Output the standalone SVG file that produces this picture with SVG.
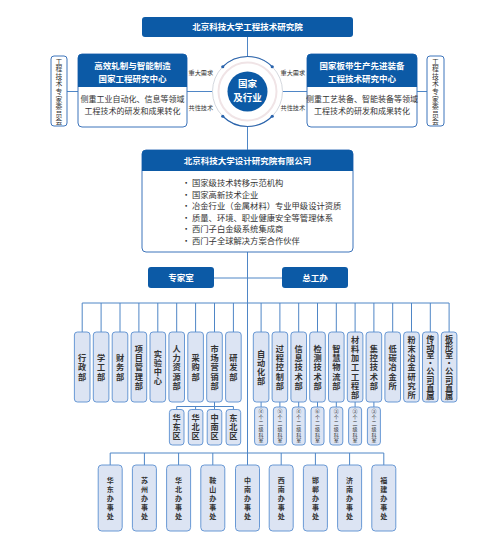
<svg xmlns="http://www.w3.org/2000/svg" width="500" height="556" viewBox="0 0 500 556">
<style>
text{font-family:"Noto Sans CJK SC","Noto Sans",sans-serif;}
.hd{fill:#0c5aa6;}
.wt{fill:#fff;font-weight:bold;text-anchor:middle;}
.body{fill:#333;font-size:8px;text-anchor:middle;}
.frame{fill:#fff;stroke:#3d74bb;stroke-width:1;}
.cm{fill:#fff;stroke:#3d74bb;stroke-width:1;}
.cmt{fill:#333;font-size:6.8px;text-anchor:middle;}
.lbl{fill:#333;font-size:6.2px;}
.dept{fill:#dce4f3;stroke:#5a8fd0;stroke-width:0.9;}
.dt{fill:#333;font-size:8.2px;font-weight:bold;text-anchor:middle;}
.st{fill:#333;font-size:5px;text-anchor:middle;}
.ot{fill:#333;font-size:7px;font-weight:bold;text-anchor:middle;}
.bl{fill:#333;font-size:8.3px;}
.ln{stroke:#4f86c6;stroke-width:1;fill:none;}
</style>
<rect width="500" height="556" fill="#fff"/>

<g id="connectors">
<path class="ln" d="M247.5 37V56.5M247.5 126.5V150M247.5 252V465"/>
<path class="ln" d="M67 91.5H78M187 91.5H212.5M282.5 91.5H307M417 91.5H427"/>
<path class="ln" d="M214 278H282"/>
<path class="ln" d="M82.2 303H449.1M82.2 303V332M101.1 303V332M120 303V332M138.9 303V332M157.8 303V332M176.7 303V332M195.6 303V332M214.5 303V332M233.4 303V332M261.1 303V332M279.9 303V332M298.7 303V332M317.5 303V332M336.3 303V332M355.1 303V332M373.9 303V332M392.7 303V332M411.5 303V332M430.3 303V332M449.1 303V332"/>
<path class="ln" d="M214.5 402V406.5M176.7 406.5H233.4M176.7 406.5V409.5M195.6 406.5V409.5M214.5 406.5V409.5M233.4 406.5V409.5"/>
<path class="ln" d="M261.1 402V407M279.9 402V407M298.7 402V407M317.5 402V407M336.3 402V407M355.1 402V407M373.9 402V407"/>
<path class="ln" d="M110.2 453H383.8M110.2 453V465M144.4 453V465M178.6 453V465M212.8 453V465M281.2 453V465M315.4 453V465M349.6 453V465M383.8 453V465"/>
</g>

<g id="institute">
<rect class="hd" x="142" y="17" width="211" height="20" rx="3"/>
<text class="wt" x="247.5" y="30.2" font-size="8.5">北京科技大学工程技术研究院</text>
</g>

<g id="center-circle">
<circle cx="247.5" cy="91.5" r="35" fill="#fff" stroke="#c9ced6" stroke-width="0.8"/>
<circle cx="247.5" cy="91.5" r="29" fill="none" stroke="#f0e4e6" stroke-width="2"/>
<path d="M222.75 66.75A35 35 0 0 1 272.25 66.75M222.75 116.25A35 35 0 0 0 272.25 116.25" fill="none" stroke="#2a64ad" stroke-width="1.1"/>
<circle cx="222.75" cy="66.75" r="1.6" fill="#2a64ad"/>
<circle cx="272.25" cy="66.75" r="1.6" fill="#2a64ad"/>
<circle cx="222.75" cy="116.25" r="1.6" fill="#2a64ad"/>
<circle cx="272.25" cy="116.25" r="1.6" fill="#2a64ad"/>
<circle cx="247.5" cy="91.5" r="20" fill="#0c5aa6"/>
<text class="wt" x="247.5" y="86.5" font-size="9.5">国家</text>
<text class="wt" x="247.5" y="100.5" font-size="9.5">及行业</text>
</g>

<g id="labels">
<text class="lbl" x="188.5" y="75.2">重大需求</text>
<text class="lbl" x="188.5" y="110.2">共性技术</text>
<text class="lbl" x="280.5" y="75.2">重大需求</text>
<text class="lbl" x="280.5" y="110.2">共性技术</text>
</g>

<g id="committee-left">
<rect class="cm" x="51" y="56" width="16" height="70" rx="3"/>
<text class="cmt" x="59 59 59 59 59 59 59 59 59" y="63.5 71.1 78.7 86.3 93.9 101.5 109.1 116.7 124.3">工程技术专家委员会</text>
</g>
<g id="committee-right">
<rect class="cm" x="427" y="56" width="17" height="70" rx="3"/>
<text class="cmt" x="435.5 435.5 435.5 435.5 435.5 435.5 435.5 435.5 435.5" y="63.5 71.1 78.7 86.3 93.9 101.5 109.1 116.7 124.3">工程技术专家委员会</text>
</g>

<g id="center-left">
<rect class="frame" x="78" y="54" width="109" height="73" rx="4"/>
<path class="hd" d="M78 87V58A4 4 0 0 1 82 54H183A4 4 0 0 1 187 58V87Z"/>
<text class="wt" x="132.5" y="69" font-size="8.5">高效轧制与智能制造</text>
<text class="wt" x="132.5" y="81.5" font-size="8.5">国家工程研究中心</text>
<text class="body" x="132.5" y="102.3">侧重工业自动化、信息等领域</text>
<text class="body" x="132.5" y="114">工程技术的研发和成果转化</text>
</g>

<g id="center-right">
<rect class="frame" x="307" y="54" width="110" height="73" rx="4"/>
<path class="hd" d="M307 87V58A4 4 0 0 1 311 54H413A4 4 0 0 1 417 58V87Z"/>
<text class="wt" x="362" y="69" font-size="8.5">国家板带生产先进装备</text>
<text class="wt" x="362" y="81.5" font-size="8.5">工程技术研究中心</text>
<text class="body" x="362" y="102.3">侧重工艺装备、智能装备等领域</text>
<text class="body" x="362" y="114">工程技术的研发和成果转化</text>
</g>

<g id="company">
<rect class="frame" x="142" y="150" width="211" height="102" rx="4"/>
<path class="hd" d="M142 171V154A4 4 0 0 1 146 150H349A4 4 0 0 1 353 154V171Z"/>
<text class="wt" x="247.5" y="163.5" font-size="8.5">北京科技大学设计研究院有限公司</text>
<g class="bl">
<text x="182" y="186">·</text><text x="192" y="186">国家级技术转移示范机构</text>
<text x="182" y="197.5">·</text><text x="192" y="197.5">国家高新技术企业</text>
<text x="182" y="209">·</text><text x="192" y="209">冶金行业（金属材料）专业甲级设计资质</text>
<text x="182" y="220.5">·</text><text x="192" y="220.5">质量、环境、职业健康安全等管理体系</text>
<text x="182" y="232">·</text><text x="192" y="232">西门子白金级系统集成商</text>
<text x="182" y="243.5">·</text><text x="192" y="243.5">西门子全球解决方案合作伙伴</text>
</g>
</g>

<g id="expert-room">
<rect class="hd" x="148" y="267" width="66" height="21" rx="3"/>
<text class="wt" x="181" y="280.8" font-size="8.5">专家室</text>
</g>
<g id="chief-office">
<rect class="hd" x="282" y="267" width="66" height="21" rx="3"/>
<text class="wt" x="315" y="280.8" font-size="8.5">总工办</text>
</g>

<g id="departments-left">
<rect class="dept" x="74.4" y="332" width="15.6" height="70" rx="3"/>
<text class="dt" x="82.2 82.2 82.2" y="361.2 370.4 379.6">行政部</text>
<rect class="dept" x="93.3" y="332" width="15.6" height="70" rx="3"/>
<text class="dt" x="101.1 101.1 101.1" y="361.2 370.4 379.6">学工部</text>
<rect class="dept" x="112.2" y="332" width="15.6" height="70" rx="3"/>
<text class="dt" x="120 120 120" y="361.2 370.4 379.6">财务部</text>
<rect class="dept" x="131.1" y="332" width="15.6" height="70" rx="3"/>
<text class="dt" x="138.9 138.9 138.9 138.9 138.9" y="352 361.2 370.4 379.6 388.8">项目管理部</text>
<rect class="dept" x="150" y="332" width="15.6" height="70" rx="3"/>
<text class="dt" x="157.8 157.8 157.8 157.8" y="356.6 365.8 375 384.2">实验中心</text>
<rect class="dept" x="168.9" y="332" width="15.6" height="70" rx="3"/>
<text class="dt" x="176.7 176.7 176.7 176.7 176.7" y="352 361.2 370.4 379.6 388.8">人力资源部</text>
<rect class="dept" x="187.8" y="332" width="15.6" height="70" rx="3"/>
<text class="dt" x="195.6 195.6 195.6" y="361.2 370.4 379.6">采购部</text>
<rect class="dept" x="206.7" y="332" width="15.6" height="70" rx="3"/>
<text class="dt" x="214.5 214.5 214.5 214.5 214.5" y="352 361.2 370.4 379.6 388.8">市场营销部</text>
<rect class="dept" x="225.6" y="332" width="15.6" height="70" rx="3"/>
<text class="dt" x="233.4 233.4 233.4" y="361.2 370.4 379.6">研发部</text>
</g>

<g id="departments-right">
<rect class="dept" x="253.3" y="332" width="15.6" height="70" rx="3"/>
<text class="dt" x="261.1 261.1 261.1 261.1" y="356.6 365.8 375 384.2">自动化部</text>
<rect class="dept" x="272.1" y="332" width="15.6" height="70" rx="3"/>
<text class="dt" x="279.9 279.9 279.9 279.9 279.9" y="352 361.2 370.4 379.6 388.8">过程控制部</text>
<rect class="dept" x="290.9" y="332" width="15.6" height="70" rx="3"/>
<text class="dt" x="298.7 298.7 298.7 298.7 298.7" y="352 361.2 370.4 379.6 388.8">信息技术部</text>
<rect class="dept" x="309.7" y="332" width="15.6" height="70" rx="3"/>
<text class="dt" x="317.5 317.5 317.5 317.5 317.5" y="352 361.2 370.4 379.6 388.8">检测技术部</text>
<rect class="dept" x="328.5" y="332" width="15.6" height="70" rx="3"/>
<text class="dt" x="336.3 336.3 336.3 336.3 336.3" y="352 361.2 370.4 379.6 388.8">智慧物流部</text>
<rect class="dept" x="347.3" y="332" width="15.6" height="70" rx="3"/>
<text class="dt" x="355.1 355.1 355.1 355.1 355.1 355.1 355.1" y="342.8 352 361.2 370.4 379.6 388.8 398">材料加工工程部</text>
<rect class="dept" x="366.1" y="332" width="15.6" height="70" rx="3"/>
<text class="dt" x="373.9 373.9 373.9 373.9 373.9" y="352 361.2 370.4 379.6 388.8">集控技术部</text>
<rect class="dept" x="384.9" y="332" width="15.6" height="70" rx="3"/>
<text class="dt" x="392.7 392.7 392.7 392.7 392.7" y="352 361.2 370.4 379.6 388.8">低碳冶金所</text>
<rect class="dept" x="403.7" y="332" width="15.6" height="70" rx="3"/>
<text class="dt" x="411.5 411.5 411.5 411.5 411.5 411.5 411.5" y="342.8 352 361.2 370.4 379.6 388.8 398">粉末冶金研究所</text>
<rect class="dept" x="422.5" y="332" width="15.6" height="70" rx="3"/>
<text class="dt" font-size="7.6" x="430.3 430.3 430.3 430.3 430.3 430.3 430.3 430.3" y="342 350.1 358.2 366.3 374.4 382.5 390.6 398.7">传动室·公司直属</text>
<rect class="dept" x="441.3" y="332" width="15.6" height="70" rx="3"/>
<text class="dt" font-size="7.6" x="449.1 449.1 449.1 449.1 449.1 449.1 449.1 449.1" y="342 350.1 358.2 366.3 374.4 382.5 390.6 398.7">板形室·公司直属</text>
</g>

<g id="regions">
<rect class="dept" x="169.4" y="409.5" width="14.6" height="35.5" rx="3"/>
<text class="dt" font-size="8" x="176.7 176.7 176.7" y="420.9 430.1 439.3">华东区</text>
<rect class="dept" x="188.3" y="409.5" width="14.6" height="35.5" rx="3"/>
<text class="dt" font-size="8" x="195.6 195.6 195.6" y="420.9 430.1 439.3">华北区</text>
<rect class="dept" x="207.2" y="409.5" width="14.6" height="35.5" rx="3"/>
<text class="dt" font-size="8" x="214.5 214.5 214.5" y="420.9 430.1 439.3">中南区</text>
<rect class="dept" x="226.1" y="409.5" width="14.6" height="35.5" rx="3"/>
<text class="dt" font-size="8" x="233.4 233.4 233.4" y="420.9 430.1 439.3">东北区</text>
</g>

<g id="sections">
<rect class="dept" x="254.6" y="407" width="13" height="38" rx="3"/>
<text class="st" x="261.1 261.1 261.1 261.1 261.1 261.1" y="413.3 419.1 424.9 430.7 436.5 442.3">④个二级科室</text>
<rect class="dept" x="273.4" y="407" width="13" height="38" rx="3"/>
<text class="st" x="279.9 279.9 279.9 279.9 279.9 279.9" y="413.3 419.1 424.9 430.7 436.5 442.3">⑤个二级科室</text>
<rect class="dept" x="292.2" y="407" width="13" height="38" rx="3"/>
<text class="st" x="298.7 298.7 298.7 298.7 298.7 298.7" y="413.3 419.1 424.9 430.7 436.5 442.3">④个二级科室</text>
<rect class="dept" x="311" y="407" width="13" height="38" rx="3"/>
<text class="st" x="317.5 317.5 317.5 317.5 317.5 317.5" y="413.3 419.1 424.9 430.7 436.5 442.3">⑥个二级科室</text>
<rect class="dept" x="329.8" y="407" width="13" height="38" rx="3"/>
<text class="st" x="336.3 336.3 336.3 336.3 336.3 336.3" y="413.3 419.1 424.9 430.7 436.5 442.3">③个二级科室</text>
<rect class="dept" x="348.6" y="407" width="13" height="38" rx="3"/>
<text class="st" x="355.1 355.1 355.1 355.1 355.1 355.1" y="413.3 419.1 424.9 430.7 436.5 442.3">③个二级科室</text>
<rect class="dept" x="367.4" y="407" width="13" height="38" rx="3"/>
<text class="st" x="373.9 373.9 373.9 373.9 373.9 373.9" y="413.3 419.1 424.9 430.7 436.5 442.3">③个二级科室</text>
</g>

<g id="offices">
<rect class="dept" x="98.2" y="465" width="24" height="66" rx="3.5"/>
<text class="ot" x="110.2 110.2 110.2 110.2 110.2" y="482.5 491.5 500.5 509.5 518.5">华东办事处</text>
<rect class="dept" x="132.4" y="465" width="24" height="66" rx="3.5"/>
<text class="ot" x="144.4 144.4 144.4 144.4 144.4" y="482.5 491.5 500.5 509.5 518.5">苏州办事处</text>
<rect class="dept" x="166.6" y="465" width="24" height="66" rx="3.5"/>
<text class="ot" x="178.6 178.6 178.6 178.6 178.6" y="482.5 491.5 500.5 509.5 518.5">华北办事处</text>
<rect class="dept" x="200.8" y="465" width="24" height="66" rx="3.5"/>
<text class="ot" x="212.8 212.8 212.8 212.8 212.8" y="482.5 491.5 500.5 509.5 518.5">鞍山办事处</text>
<rect class="dept" x="235.5" y="465" width="24" height="66" rx="3.5"/>
<text class="ot" x="247.5 247.5 247.5 247.5 247.5" y="482.5 491.5 500.5 509.5 518.5">中南办事处</text>
<rect class="dept" x="269.2" y="465" width="24" height="66" rx="3.5"/>
<text class="ot" x="281.2 281.2 281.2 281.2 281.2" y="482.5 491.5 500.5 509.5 518.5">西南办事处</text>
<rect class="dept" x="303.4" y="465" width="24" height="66" rx="3.5"/>
<text class="ot" x="315.4 315.4 315.4 315.4 315.4" y="482.5 491.5 500.5 509.5 518.5">邯郸办事处</text>
<rect class="dept" x="337.6" y="465" width="24" height="66" rx="3.5"/>
<text class="ot" x="349.6 349.6 349.6 349.6 349.6" y="482.5 491.5 500.5 509.5 518.5">济南办事处</text>
<rect class="dept" x="371.8" y="465" width="24" height="66" rx="3.5"/>
<text class="ot" x="383.8 383.8 383.8 383.8 383.8" y="482.5 491.5 500.5 509.5 518.5">福建办事处</text>
</g>
</svg>
